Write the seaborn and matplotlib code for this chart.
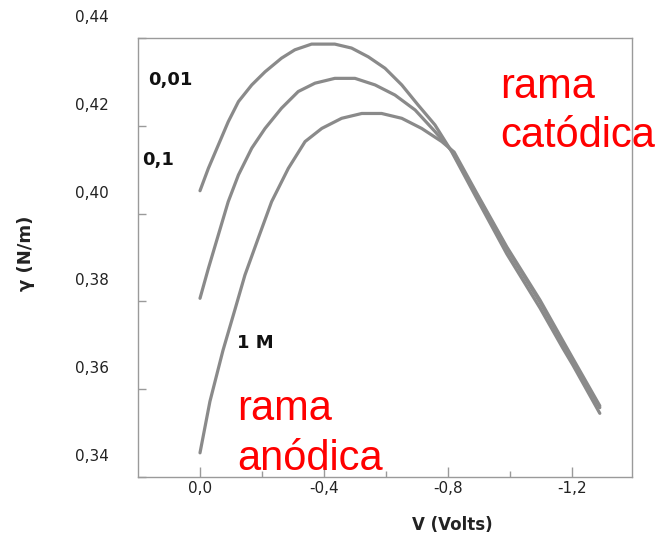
import numpy as np
import pandas as pd
import matplotlib
matplotlib.use("Agg")
import matplotlib.pyplot as plt
import seaborn as sns
from matplotlib.transforms import ScaledTranslation

# ---- data ----
concentrations = ["0,01", "0,1", "1 M"]

V_001 = [0.000, -0.027, -0.059, -0.091, -0.124, -0.167, -0.210, -0.263, -0.306, -0.360,
         -0.435, -0.489, -0.543, -0.597, -0.651, -0.704, -0.758, -0.812, -0.894, -0.990,
         -1.097, -1.171, -1.203, -1.290]
g_001 = [0.4052, 0.4103, 0.4156, 0.4209, 0.4255, 0.4293, 0.4323, 0.4354, 0.4373, 0.4386,
         0.4386, 0.4377, 0.4357, 0.4331, 0.4293, 0.4247, 0.4202, 0.4141, 0.4033, 0.3908,
         0.3785, 0.3693, 0.3655, 0.3545]

V_01 = [0.000, -0.027, -0.059, -0.091, -0.124, -0.167, -0.210, -0.263, -0.317, -0.371,
        -0.435, -0.500, -0.565, -0.629, -0.694, -0.758, -0.812, -0.894, -0.990,
        -1.097, -1.171, -1.203, -1.290]
g_01 = [0.3807, 0.3875, 0.3951, 0.4027, 0.4088, 0.4149, 0.4194, 0.4240, 0.4278, 0.4297,
        0.4308, 0.4308, 0.4293, 0.4270, 0.4236, 0.4187, 0.4143, 0.4042, 0.3920,
        0.3798, 0.3705, 0.3665, 0.3558]

V_1M = [0.000, -0.032, -0.074, -0.113, -0.145, -0.188, -0.231, -0.285, -0.339, -0.393,
        -0.457, -0.522, -0.586, -0.651, -0.715, -0.780, -0.820, -0.894, -0.990,
        -1.097, -1.171, -1.203, -1.290]
g_1M = [0.3455, 0.3572, 0.3688, 0.3782, 0.3860, 0.3944, 0.4027, 0.4103, 0.4164, 0.4194,
        0.4217, 0.4228, 0.4228, 0.4217, 0.4194, 0.4164, 0.4140, 0.4045, 0.3924,
        0.3803, 0.3710, 0.3670, 0.3562]

x_major = [0.0, -0.4, -0.8, -1.2]
x_major_labels = ["0,0", "-0,4", "-0,8", "-1,2"]
x_minor = [-0.2, -0.6, -1.0]
y_ticks = [0.34, 0.36, 0.38, 0.40, 0.42, 0.44]
y_tick_labels = ["0,34", "0,36", "0,38", "0,40", "0,42", "0,44"]

label_x = [0.168, 0.187, -0.119]
label_y = [0.4304, 0.4122, 0.3705]

# ---- figure ----
sns.set_theme(style="white")
plt.rcParams["font.family"] = ["DejaVu Sans"]
plt.rcParams["axes.unicode_minus"] = False

fig = plt.figure(figsize=(6.61, 5.40), dpi=100)
ax = fig.add_axes([0.2088, 0.1167, 0.7474, 0.8130])

curve_color = "#8a8a8a"
for V, g in [(V_001, g_001), (V_01, g_01), (V_1M, g_1M)]:
    d = pd.DataFrame({"V": V, "gamma": g})
    sns.lineplot(data=d, x="V", y="gamma", sort=False, estimator=None,
                 color=curve_color, lw=2.3, ax=ax)
for ln in ax.lines:
    ln.set_solid_joinstyle("round")
    ln.set_solid_capstyle("round")

ax.set_xlim(0.2, -1.394)
ax.set_ylim(0.34, 0.44)

ax.set_xticks(x_major)
ax.set_xticklabels(x_major_labels)
ax.set_xticks(x_minor, minor=True)
ax.set_yticks(y_ticks)
ax.set_yticklabels(y_tick_labels)

for s in ax.spines.values():
    s.set_color("#9a9a9a")
    s.set_linewidth(1.0)

ax.tick_params(axis="both", which="both", direction="in", color="#9a9a9a",
               left=True, bottom=True, width=1.0)
ax.tick_params(axis="x", which="major", length=7, pad=3, labelsize=11, labelcolor="#222222")
ax.tick_params(axis="x", which="minor", length=4)
ax.tick_params(axis="y", which="major", length=6, pad=21, labelsize=11, labelcolor="#222222")

# y tick labels sit higher than their tick marks in the reference
off = ScaledTranslation(0, 0.22, fig.dpi_scale_trans)
for lbl in ax.get_yticklabels():
    lbl.set_transform(lbl.get_transform() + off)

ax.set_xlabel("V (Volts)", fontsize=12, fontweight="bold", color="#222222")
ax.xaxis.set_label_coords(0.636, -0.09)
ax.set_ylabel("γ (N/m)", fontsize=13, fontweight="bold", color="#222222")
ax.yaxis.set_label_coords(-0.2085, 0.51)

for t, x, y in zip(concentrations, label_x, label_y):
    ax.text(x, y, t, fontsize=13, fontweight="bold", color="#111111",
            ha="left", va="center")

red = "#ff0000"
ax.text(-0.968, 0.4263, "rama", fontsize=30, color=red, family="Liberation Sans",
        ha="left", va="baseline", clip_on=False)
ax.text(-0.968, 0.4152, "catódica", fontsize=30, color=red, family="Liberation Sans",
        ha="left", va="baseline", clip_on=False)
ax.text(-0.119, 0.3530, "rama", fontsize=30, color=red, family="Liberation Sans",
        ha="left", va="baseline", clip_on=False)
ax.text(-0.119, 0.3416, "anódica", fontsize=30, color=red, family="Liberation Sans",
        ha="left", va="baseline", clip_on=False)

fig.savefig("out.png", dpi=100)
